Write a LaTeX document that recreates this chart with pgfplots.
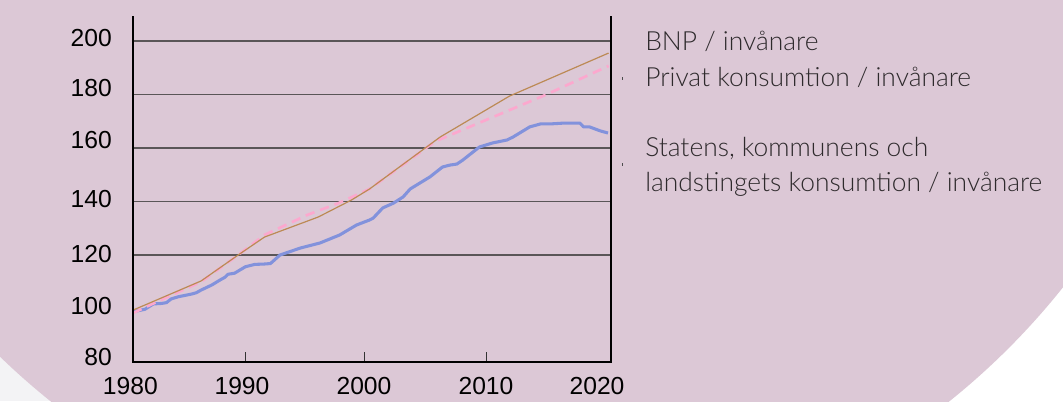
\documentclass[border=0pt]{standalone}
\usepackage{pgfplots}
\pgfplotsset{compat=1.18}
\usepackage{fontspec}
\setmainfont{Liberation Sans}
\newfontfamily\legfont{Lato Light}
\definecolor{bgpink}{HTML}{DCC8D6}
\definecolor{bggray}{HTML}{F3F3F5}
\definecolor{bnpcol}{HTML}{BC8A55}
\definecolor{privcol}{HTML}{FCA8CE}
\definecolor{offcol}{HTML}{8292DC}
\definecolor{legtext}{HTML}{2E2A2C}
\definecolor{gridcol}{HTML}{5A5658}

\pgfplotstableread{
year val
1980.0 99.4
1985.7 110.3
1988.8 120.0
1991.0 126.7
1995.5 134.2
1998.3 140.6
1999.8 144.7
2005.7 164.1
2011.5 179.4
2019.8 195.5
}\bnp

\pgfplotstableread{
year val
1980.0 98.3
1982.0 102.5
1985.7 110.0
1988.8 120.0
1991.0 127.5
1994.6 135.0
1997.2 139.4
1999.8 144.7
2005.3 162.5
2014.5 179.8
2019.8 190.7
}\priv

\pgfplotstableread{
year val
1980.0 98.8
1981.0 99.7
1981.7 101.7
1982.4 101.9
1982.8 102.2
1983.2 103.6
1983.8 104.4
1984.9 105.4
1985.3 105.9
1985.7 106.9
1986.6 108.8
1987.3 110.7
1987.7 111.7
1987.95 112.8
1988.5 113.2
1989.4 115.6
1990.2 116.5
1990.9 116.6
1991.5 116.8
1992.3 120.0
1994.0 122.6
1995.65 124.5
1997.3 127.5
1998.7 131.2
1999.8 133.1
2000.1 133.8
2000.9 137.6
2001.8 139.4
2002.6 141.7
2003.2 144.7
2003.6 145.8
2004.85 149.2
2005.9 152.9
2006.5 153.6
2007.1 154.0
2007.6 155.5
2008.45 158.5
2009.0 160.4
2010.1 161.9
2011.3 163.0
2011.8 164.1
2013.2 167.9
2014.1 169.0
2014.9 169.0
2016.0 169.3
2017.4 169.3
2017.7 167.9
2018.2 167.9
2019.1 166.4
2019.75 165.6
}\off

\begin{document}
\begin{tikzpicture}
\path[use as bounding box] (0,0) rectangle (797.25pt,300.75pt);
\fill[bggray] (0,0) rectangle (398pt,300.75pt);
\fill[white] (398pt,0) rectangle (797.25pt,300.75pt);
\begin{scope}
\clip (0,0) rectangle (797.25pt,300.75pt);
\fill[bgpink] (375pt,420.75pt) circle (539.25pt);
\end{scope}

\begin{axis}[
  at={(99.75pt,29.25pt)}, anchor=south west,
  scale only axis, width=358.5pt, height=259.5pt,
  xmin=1980, xmax=2020, ymin=80, ymax=209.35,
  axis line style={draw=none},
  tick pos=left,
  xtick={1980,1989.12,1999.33,2009.54,2018.83},
  xticklabels={\hspace*{-4pt}1980,1990,2000,2010,\raisebox{3pt}{2020}},
  ytick={81.9,100.9,120.4,140.9,163.0,182.4,201.1},
  yticklabels={80,100,120,140,160,180,200},
  major tick length=0pt,
  extra x ticks={1989.37,1999.33,2009.62},
  extra x tick labels={},
  extra x tick style={major tick length=7.5pt, major tick style={black!80, line width=0.7pt}},
  extra y ticks={120,140,160,180,200},
  extra y tick labels={},
  extra y tick style={grid=major, major tick length=0pt},
  major grid style={draw=gridcol, line width=1pt},
  ticklabel style={font=\fontsize{18.5}{18.5}\selectfont, text=black},
  yticklabel style={anchor=east, inner sep=0pt, xshift=-15.75pt},
  xticklabel style={anchor=north, inner sep=0pt, yshift=-11pt},
  clip=false,
]
\addplot[offcol, line width=2.3pt, line join=round] table[x=year,y=val] {\off};
\addplot[privcol, line width=2pt, dash pattern=on 7pt off 4.5pt] table[x=year,y=val] {\priv};
\addplot[bnpcol, line width=0.9pt] table[x=year,y=val] {\bnp};
\draw[line width=2pt, black] (axis cs:1980,209.35) -- (axis cs:1980,80) -- (axis cs:2020,80) -- (axis cs:2020,209.35);
\end{axis}

\begin{scope}[every node/.style={anchor=base west, inner sep=0pt, text=legtext, font=\legfont\fontsize{19.8}{22}\selectfont}]
\node at (483.75pt,263.25pt) {BNP / invånare};
\node at (483.75pt,236.25pt) {Privat konsumtion / invånare};
\node at (483.75pt,183.75pt) {Statens, kommunens och};
\node at (483.75pt,157.5pt) {landstingets konsumtion / invånare};
\end{scope}
\draw[black!70, line width=0.5pt] (466.5pt,243pt) -- ++(0,-2.2pt);
\draw[black!70, line width=0.5pt] (466.5pt,178.5pt) -- ++(0,-2.2pt);
\end{tikzpicture}
\end{document}
